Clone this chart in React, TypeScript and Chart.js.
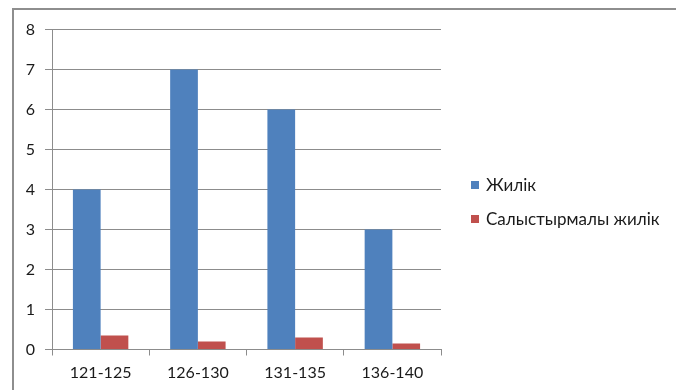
import React, { useEffect, useRef } from "react";
import { Chart, registerables } from "chart.js";

Chart.register(...registerables);

const categories = ["121-125", "126-130", "131-135", "136-140"];
const frequency = [4, 7, 6, 3];
const relativeFrequency = [0.35, 0.2, 0.3, 0.15];
const seriesNames = ["Жилік", "Салыстырмалы жилік"];
const seriesColors = ["#4F81BD", "#C0504D"];

const FONT = "Lato, 'Open Sans', sans-serif";

const legendPlugin = {
  id: "customLegend",
  afterDraw(chart: any) {
    const ctx = chart.ctx;
    ctx.save();
    const ys = [185, 219];
    seriesNames.forEach((name, i) => {
      ctx.fillStyle = seriesColors[i];
      ctx.fillRect(471, ys[i] - 4, 8, 8);
      ctx.fillStyle = "#1a1a1a";
      ctx.font = `17px ${FONT}`;
      ctx.textBaseline = "middle";
      ctx.textAlign = "left";
      ctx.fillText(name, 486, ys[i] + 1);
    });
    ctx.restore();
  },
};

export default function App() {
  const ref = useRef<HTMLCanvasElement | null>(null);
  useEffect(() => {
    if (!ref.current) return;
    const chart = new Chart(ref.current, {
      type: "bar",
      data: {
        labels: categories,
        datasets: [
          { label: seriesNames[0], data: frequency, backgroundColor: seriesColors[0] },
          { label: seriesNames[1], data: relativeFrequency, backgroundColor: seriesColors[1] },
        ],
      },
      options: {
        animation: false,
        responsive: false,
        devicePixelRatio: 1,
        layout: { padding: { left: 0, right: 235, top: 29.5, bottom: 0 } },
        plugins: { legend: { display: false }, tooltip: { enabled: false } },
        datasets: { bar: { categoryPercentage: 0.57, barPercentage: 1 } } as any,
        scales: {
          x: {
            afterFit(scale: any) {
              scale.height = 40.5;
            },
            grid: {
              offset: true,
              drawOnChartArea: false,
              drawTicks: true,
              tickLength: 6,
              color: "#8c8c8c",
            },
            border: { color: "#8c8c8c" },
            ticks: { color: "#1a1a1a", font: { family: FONT, size: 16 }, padding: 8 },
          },
          y: {
            min: 0,
            max: 8,
            afterFit(scale: any) {
              scale.width = 52;
            },
            ticks: { stepSize: 1, color: "#1a1a1a", font: { family: FONT, size: 16 }, padding: 10 },
            grid: { color: "#8c8c8c", tickLength: 7 },
            border: { color: "#8c8c8c" },
          },
        },
      },
      plugins: [legendPlugin],
    });
    return () => chart.destroy();
  }, []);
  return (
    <div style={{ position: "fixed", left: 0, top: 0, width: 676, height: 390, background: "#fff", overflow: "hidden" }}>
      <div
        style={{
          position: "absolute",
          left: 12,
          top: 8,
          width: 700,
          height: 420,
          border: "2px solid #8e8e8e",
          boxSizing: "border-box",
        }}
      />
      <canvas ref={ref} width={676} height={390} style={{ position: "absolute", left: 0, top: 0 }} />
    </div>
  );
}
